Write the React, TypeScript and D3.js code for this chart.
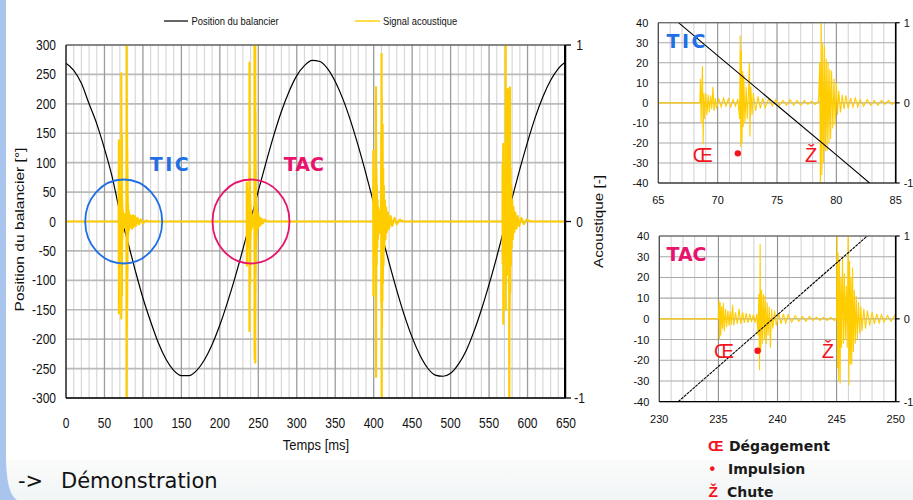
import * as React from 'react';
import * as d3 from 'd3';

type Pt = [number, number];

// ---------- main chart ticks
const timeTicks = [0, 50, 100, 150, 200, 250, 300, 350, 400, 450, 500, 550, 600, 650];
const positionTicks = [300, 250, 200, 150, 100, 50, 0, -50, -100, -150, -200, -250, -300];
const acousticTicks = [1, 0, -1];

// balance wheel position [°], read every 10 ms
const positionTime = [0, 10, 20, 30, 40, 50, 60, 70, 80, 90, 100, 110, 120, 130, 140, 150, 160, 170, 180, 190,
    200, 210, 220, 230, 240, 250, 260, 270, 280, 290, 300, 310, 320, 330, 340, 350, 360, 370, 380, 390,
    400, 410, 420, 430, 440, 450, 460, 470, 480, 490, 500, 510, 520, 530, 540, 550, 560, 570, 580, 590,
    600, 610, 620, 630, 640, 650];
const positionValues = [269, 257, 235, 200, 166, 124, 76, 16, -33, -83, -130, -170, -206, -234, -253, -262, -262, -253, -235, -209,
    -176, -137, -94, -47, 2, 52, 100, 146, 187, 221, 248, 265, 274, 272, 260, 238, 208, 171, 128, 81,
    31, -20, -70, -117, -160, -197, -227, -249, -261, -263, -258, -243, -220, -188, -150, -107, -60, -10, 40, 89,
    135, 177, 212, 240, 260, 272];

// acoustic signal bursts [ms, -]
const ticBurst: Pt[] = [
    [65, 0], [68.5, 0], [68.55, 0.3], [68.6, -0.25], [68.65, 0.1], [68.72, 0.46], [68.78, -0.52], [68.84, 0.12],
    [68.9, -0.2], [69.0, 0.12], [69.1, -0.15], [69.2, 0.1], [69.3, -0.12], [69.4, 0.09], [69.5, -0.08], [69.6, 0.2],
    [69.7, -0.1], [69.8, 0.06], [69.9, -0.07], [70.1, 0.05], [70.3, -0.05], [70.5, 0.06], [70.7, -0.04], [70.9, 0.05],
    [71.1, -0.05], [71.3, 0.04], [71.5, -0.04], [71.7, 0.05], [71.85, -0.2], [71.9, 0.84], [71.95, -0.55], [72.0, 0.65],
    [72.05, -0.5], [72.1, 0.4], [72.15, -0.3], [72.2, 0.35], [72.3, -0.25], [72.4, 0.2], [72.5, -0.2], [72.6, 0.15],
    [72.68, 0.5], [72.72, -0.42], [72.8, 0.2], [72.9, -0.15], [73.0, 0.12], [73.2, -0.1], [73.4, 0.08], [73.6, -0.07],
    [73.8, 0.06], [74.0, -0.06], [74.3, 0.05], [74.6, -0.04], [74.9, 0.04], [75.2, -0.03], [75.5, 0.03], [75.8, -0.03],
    [76.1, 0.04], [76.4, -0.03], [76.7, 0.03], [77.0, -0.03], [77.3, 0.03], [77.6, -0.02], [77.9, 0.02], [78.2, -0.02],
    [78.5, 0.02], [78.6, 0.5], [78.66, -1.2], [78.72, 1.2], [78.78, -0.9], [78.85, 0.75], [78.92, -0.75], [79.0, 0.7],
    [79.08, -0.6], [79.15, 0.55], [79.22, -0.6], [79.3, 0.5], [79.38, -0.5], [79.45, 0.42], [79.52, -0.45], [79.6, 0.4],
    [79.7, -0.32], [79.8, 0.3], [79.9, -0.28], [80.0, 0.25], [80.1, -0.15], [80.2, 0.15], [80.35, -0.12], [80.5, 0.1],
    [80.65, -0.08], [80.8, 0.09], [81.0, -0.07], [81.2, 0.06], [81.4, -0.05], [81.6, 0.06], [81.8, -0.05], [82.0, 0.04],
    [82.3, -0.04], [82.6, 0.04], [82.9, -0.03], [83.2, 0.03], [83.5, -0.03], [83.8, 0.03], [84.1, -0.02], [84.4, 0.03],
    [84.7, -0.02], [85.0, 0.02], [86, -0.04], [87, 0.035], [88, -0.03], [89.5, 0.03], [91, -0.025], [93, 0.02],
    [95, -0.015], [97, 0.012], [100, -0.01], [104, 0.005], [108, 0],
];

const tacBurst: Pt[] = [
    [230, 0], [235.0, 0], [235.05, 0.22], [235.1, -0.25], [235.15, 0.2], [235.2, -0.2], [235.27, 0.15], [235.35, -0.12],
    [235.42, 0.19], [235.5, -0.15], [235.6, 0.12], [235.7, -0.1], [235.8, 0.1], [235.9, -0.08], [236.0, 0.09], [236.1, -0.07],
    [236.2, 0.17], [236.3, -0.08], [236.45, 0.08], [236.6, -0.06], [236.75, 0.12], [236.9, -0.06], [237.05, 0.08], [237.2, -0.05],
    [237.35, 0.07], [237.5, -0.05], [237.65, 0.06], [237.8, -0.04], [237.95, 0.05], [238.1, -0.05], [238.25, 0.06], [238.35, -0.2],
    [238.42, 0.3], [238.48, -0.62], [238.53, 0.9], [238.58, -0.4], [238.65, 0.35], [238.72, -0.3], [238.8, 0.3], [238.88, -0.25],
    [238.95, 0.28], [239.05, -0.3], [239.12, 0.2], [239.2, -0.2], [239.3, 0.15], [239.4, -0.35], [239.5, 0.12], [239.6, -0.12],
    [239.75, 0.1], [239.9, -0.08], [240.1, 0.07], [240.3, -0.06], [240.5, 0.06], [240.7, -0.05], [240.9, 0.05], [241.2, -0.04],
    [241.5, 0.04], [241.8, -0.03], [242.1, 0.03], [242.4, -0.03], [242.7, 0.03], [243.0, -0.02], [243.3, 0.02], [243.6, -0.02],
    [243.9, 0.02], [244.2, -0.02], [244.5, 0.02], [244.8, -0.02], [245.0, 0.0], [245.03, 1.2], [245.08, -0.6], [245.12, 0.8],
    [245.18, -0.75], [245.24, 0.7], [245.3, -0.78], [245.36, 0.5], [245.42, -0.35], [245.5, 0.75], [245.58, -0.3], [245.66, 0.55],
    [245.74, -0.25], [245.82, 0.4], [245.9, -0.35], [245.98, 1.2], [246.04, -0.8], [246.1, 0.7], [246.16, -0.55], [246.22, 0.5],
    [246.28, -0.55], [246.35, 0.62], [246.42, -0.4], [246.5, 0.35], [246.58, -0.3], [246.66, 0.28], [246.75, -0.25], [246.85, 0.2],
    [246.95, -0.18], [247.05, 0.15], [247.15, -0.15], [247.3, 0.12], [247.45, -0.12], [247.6, 0.1], [247.8, -0.08], [248.0, 0.08],
    [248.2, -0.06], [248.4, 0.06], [248.6, -0.05], [248.8, 0.05], [249.0, -0.04], [249.3, 0.04], [249.6, -0.03], [249.9, 0.04],
    [250.2, -0.03], [250.6, 0.03], [251.2, -0.025], [252, 0.02], [253, -0.02], [254.5, 0.015], [256, -0.01], [258, 0.01], [262, 0],
];

const burst3: Pt[] = [
    [395, 0], [399.4, 0], [399.5, 0.4], [399.6, -0.42], [399.7, 0.25], [399.8, -0.2], [400, 0.15], [400.3, -0.12],
    [400.6, 0.1], [401, -0.08], [401.5, 0.08], [402, -0.06], [402.5, 0.06], [402.9, -0.3], [403.0, 0.76], [403.1, -0.88],
    [403.2, 0.45], [403.4, -0.35], [403.6, 0.3], [403.9, -0.25], [404.2, 0.2], [404.6, -0.15], [405, 0.12], [405.5, -0.1],
    [406, 0.08], [406.5, -0.07], [407, 0.06], [407.5, -0.06], [408, 0.05], [408.5, -0.05], [409, 0.05], [409.5, -0.04],
    [409.8, 0.5], [409.9, -0.46], [410.3, 0.95], [410.45, -1.2], [410.6, 0.7], [410.8, -0.6], [411, 0.5], [411.3, -0.45],
    [411.6, 0.55], [411.9, -0.35], [412.3, 0.3], [412.7, -0.25], [413.2, 0.2], [413.8, -0.15], [414.5, 0.12], [415.3, -0.1],
    [416.2, 0.08], [417.2, -0.06], [418.5, 0.05], [420, -0.04], [422, 0.03], [424, -0.025], [427, 0.02], [430, -0.015],
    [434, 0.01], [438, 0],
];

const burst4: Pt[] = [
    [565, 0], [567.5, 0], [567.6, 0.32], [567.7, -0.24], [567.9, 0.2], [568.1, -0.15], [568.4, 0.44], [568.5, -0.58],
    [568.7, 0.3], [569, -0.2], [569.3, 0.15], [569.7, -0.12], [570.1, 0.1], [570.6, -0.1], [571.0, 0.12], [571.4, -0.2],
    [571.6, 1.0], [571.7, -0.5], [571.9, 0.45], [572.2, -0.35], [572.6, 0.3], [573, -0.25], [573.5, 0.2], [574, -0.2],
    [574.4, 0.75], [574.7, -0.3], [575.1, 0.6], [575.5, -0.3], [576.0, 0.45], [576.3, -1.2], [576.5, 0.7], [576.8, -0.5],
    [577.2, 0.76], [577.5, -0.4], [577.9, 0.3], [578.3, -0.25], [578.8, 0.2], [579.4, -0.15], [580, 0.12], [580.8, -0.1],
    [581.7, 0.08], [582.7, -0.06], [584, 0.05], [585.5, -0.04], [587, 0.03], [589, -0.025], [592, 0.02], [595, -0.015],
    [599, 0.01], [604, 0],
];

const acousticSignal: Pt[] = [[0, 0], ...ticBurst, ...tacBurst, ...burst3, ...burst4, [650, 0]];

// ---------- zoom insets
const ticTimeTicks = [65, 70, 75, 80, 85];
const tacTimeTicks = [230, 235, 240, 245, 250];
const zoomPositionTicks = [40, 30, 20, 10, 0, -10, -20, -30, -40];
const ticZoomPosition: Pt[] = [[66.7, 40], [70, 23.6], [75, -1.2], [80, -26], [82.8, -40]];
const tacZoomPosition: Pt[] = [[231.6, -40], [235, -23], [240, 2], [245, 27], [247.6, 40]];

const ARIAL = 'Liberation Sans, Arial, sans-serif';
const VERDANA = 'DejaVu Sans, Verdana, sans-serif';
const YELLOW = '#ffcc00';
const RED = '#f5141e';
const BLUE = '#1f6fe5';
const PINK = '#e8146c';

const st = (x: number, y: number, sy: number = 1.15) => `translate(${x},${y}) scale(1,${sy})`;

function MainChart() {
    const x = d3.scaleLinear().domain([0, 650]).range([66, 566]);
    const y = d3.scaleLinear().domain([-300, 300]).range([398, 45]);
    const ya = d3.scaleLinear().domain([-1, 1]).range([398, 45]);
    const posLine = d3.line<number>().x((_, i) => x(positionTime[i])).y(d => y(d)).curve(d3.curveMonotoneX);
    const acLine = d3.line<Pt>().x(d => x(d[0])).y(d => ya(d[1]));
    const minor = d3.range(0, 651, 10).filter(t => t % 50 !== 0);

    return (
        <g>
            <defs>
                <clipPath id="mainClip">
                    <rect x={66} y={45} width={500} height={353}/>
                </clipPath>
            </defs>
            {/* legend */}
            <line x1={164} x2={188} y1={21} y2={21} stroke="#000" strokeWidth={1.2}/>
            <text transform={st(191.5, 24.5, 1.1)} fontFamily={ARIAL} fontSize={9.4} fill="#111">Position du balancier</text>
            <line x1={355} x2={380} y1={21} y2={21} stroke={YELLOW} strokeWidth={1.4}/>
            <text transform={st(383, 24.5, 1.1)} fontFamily={ARIAL} fontSize={9.4} fill="#111">Signal acoustique</text>

            {/* grid */}
            {minor.map(t => <line key={'m' + t} x1={x(t)} x2={x(t)} y1={45} y2={398} stroke="#d8d8d8" strokeWidth={1.2}/>)}
            {positionTicks.map(v => <line key={'h' + v} x1={66} x2={566} y1={y(v)} y2={y(v)} stroke="#bababa" strokeWidth={1.6}/>)}
            {timeTicks.map(t => <line key={'M' + t} x1={x(t)} x2={x(t)} y1={45} y2={398} stroke="#9c9c9c" strokeWidth={1.3}/>)}

            <g clipPath="url(#mainClip)">
                <path d={posLine(positionValues) || ''} fill="none" stroke="#000" strokeWidth={1.2}/>
                <path d={acLine(acousticSignal) || ''} fill="none" stroke={YELLOW} strokeWidth={2.2} strokeLinejoin="round"/>
            </g>

            {/* frame */}
            <line x1={66} x2={566} y1={45} y2={45} stroke="#444" strokeWidth={1.2}/>
            <line x1={66} x2={66} y1={45} y2={398} stroke="#222" strokeWidth={1.3}/>
            <line x1={66} x2={566} y1={398} y2={398} stroke="#000" strokeWidth={1.3}/>
            <line x1={565} x2={565} y1={45} y2={398} stroke="#000" strokeWidth={2}/>
            {acousticTicks.map(v => <line key={'at' + v} x1={566} x2={571} y1={ya(v)} y2={ya(v)} stroke="#000" strokeWidth={1.3}/>)}

            {/* annotations */}
            <ellipse cx={x(75)} cy={y(0)} rx={38.5} ry={42} fill="none" stroke={BLUE} strokeWidth={1.8}/>
            <ellipse cx={x(240.5)} cy={y(0)} rx={38.5} ry={42} fill="none" stroke={PINK} strokeWidth={1.8}/>
            <text x={x(109)} y={y(86)} fontFamily={VERDANA} fontWeight="bold" fontSize={19} letterSpacing={2.5} fill={BLUE}>TIC</text>
            <text x={x(283)} y={y(86)} fontFamily={VERDANA} fontWeight="bold" fontSize={19} fill={PINK}>TAC</text>

            {/* tick labels */}
            {positionTicks.map(v => (
                <text key={'yl' + v} transform={st(56, y(v) + 5)} textAnchor="end" fontFamily={ARIAL} fontSize={12} fill="#111">{v}</text>
            ))}
            {timeTicks.map(t => (
                <text key={'xl' + t} transform={st(x(t), 427.5)} textAnchor="middle" fontFamily={ARIAL} fontSize={12} fill="#111">{t}</text>
            ))}
            {acousticTicks.map(v => (
                <text key={'al' + v} transform={st(579.5, ya(v) + 5)} textAnchor="middle" fontFamily={ARIAL} fontSize={12} fill="#111">{v}</text>
            ))}
            <text transform={`translate(23.5,229.5) rotate(-90) scale(1.2,1)`} textAnchor="middle" fontFamily={ARIAL} fontSize={13} fill="#111">Position du balancier [°]</text>
            <text transform={`translate(603,221.5) rotate(-90) scale(1.17,1)`} textAnchor="middle" fontFamily={ARIAL} fontSize={13} fill="#111">Acoustique [-]</text>
            <text transform={st(316, 449.5, 1.12)} textAnchor="middle" fontFamily={ARIAL} fontSize={13} fill="#111">Temps [ms]</text>
        </g>
    );
}

interface InsetProps {
    id: string;
    xDomain: [number, number];
    left: number;
    right: number;
    top: number;
    bottom: number;
    xTicks: number[];
    burst: Pt[];
    position: Pt[];
    dashed: boolean;
    title: string;
    titleColor: string;
    titleSpacing: number;
    titleAt: Pt;
    degAt: Pt;
    impAt: Pt;
    chuteAt: Pt;
}

function Inset(p: InsetProps) {
    const x = d3.scaleLinear().domain(p.xDomain).range([p.left, p.right]);
    const y = d3.scaleLinear().domain([-40, 40]).range([p.bottom, p.top]);
    const ya = d3.scaleLinear().domain([-1, 1]).range([p.bottom, p.top]);
    const acLine = d3.line<Pt>().x(d => x(d[0])).y(d => ya(d[1]));
    const posLine = d3.line<Pt>().x(d => x(d[0])).y(d => y(d[1]));
    const ms = d3.range(p.xDomain[0], p.xDomain[1] + 1, 1);

    return (
        <g>
            <defs>
                <clipPath id={p.id}>
                    <rect x={p.left} y={p.top} width={p.right - p.left} height={p.bottom - p.top}/>
                </clipPath>
            </defs>
            {ms.filter(t => t % 5 !== 0).map(t => <line key={'m' + t} x1={x(t)} x2={x(t)} y1={p.top} y2={p.bottom} stroke="#d0d0d0" strokeWidth={1}/>)}
            {zoomPositionTicks.map(v => <line key={'h' + v} x1={p.left} x2={p.right} y1={y(v)} y2={y(v)} stroke="#a9a9a9" strokeWidth={1.1}/>)}
            {p.xTicks.map(t => <line key={'M' + t} x1={x(t)} x2={x(t)} y1={p.top} y2={p.bottom} stroke="#8e8e8e" strokeWidth={1.1}/>)}

            <g clipPath={`url(#${p.id})`}>
                <path d={acLine(p.burst) || ''} fill="none" stroke={YELLOW} strokeWidth={1.1}/>
                <path d={posLine(p.position) || ''} fill="none" stroke="#000" strokeWidth={1.1}
                      strokeDasharray={p.dashed ? '3 0.8' : undefined}/>
            </g>

            <line x1={p.left} x2={p.right} y1={p.top} y2={p.top} stroke="#555" strokeWidth={1.1}/>
            <line x1={p.left} x2={p.left} y1={p.top} y2={p.bottom} stroke="#444" strokeWidth={1.1}/>
            <line x1={p.left} x2={p.right} y1={p.bottom} y2={p.bottom} stroke="#000" strokeWidth={1.2}/>
            <line x1={p.right} x2={p.right} y1={p.top} y2={p.bottom} stroke="#000" strokeWidth={1.6}/>
            {acousticTicks.map(v => <line key={'at' + v} x1={p.right} x2={p.right + 4} y1={ya(v)} y2={ya(v)} stroke="#000" strokeWidth={1.2}/>)}

            <text x={x(p.titleAt[0])} y={y(p.titleAt[1])} fontFamily={VERDANA} fontWeight="bold" fontSize={19}
                  letterSpacing={p.titleSpacing} fill={p.titleColor}>{p.title}</text>
            <text x={x(p.degAt[0])} y={y(p.degAt[1])} fontFamily={ARIAL} fontSize={20} fill={RED}>Œ</text>
            <circle cx={x(p.impAt[0])} cy={y(p.impAt[1])} r={3.2} fill={RED}/>
            <text x={x(p.chuteAt[0])} y={y(p.chuteAt[1])} fontFamily={ARIAL} fontSize={20} fill={RED}>Ž</text>

            {zoomPositionTicks.map(v => (
                <text key={'yl' + v} x={p.left - 10} y={y(v) + 4} textAnchor="end" fontFamily={ARIAL} fontSize={11} fill="#111">{v}</text>
            ))}
            {acousticTicks.map(v => (
                <text key={'al' + v} x={p.right + 8} y={ya(v) + 4} fontFamily={ARIAL} fontSize={11} fill="#111">{v}</text>
            ))}
            {p.xTicks.map(t => (
                <text key={'xl' + t} x={x(t)} y={p.bottom + 21} textAnchor="middle" fontFamily={ARIAL} fontSize={11} fill="#111">{t}</text>
            ))}
        </g>
    );
}

export default function App() {
    return (
        <div style={{position: 'absolute', left: 0, top: 0}}>
            <svg width={913} height={500} viewBox="0 0 913 500" xmlns="http://www.w3.org/2000/svg" style={{display: 'block'}}>
                <defs>
                    <linearGradient id="bottomBand" x1="0" y1="0" x2="0" y2="1">
                        <stop offset="0" stopColor="#fbfcfa"/>
                        <stop offset="1" stopColor="#f1f5f6"/>
                    </linearGradient>
                </defs>
                <rect x={0} y={0} width={913} height={500} fill="#fff"/>
                <rect x={0} y={460} width={913} height={40} fill="url(#bottomBand)"/>
                <path d="M0,0 H6 V455 Q6,494 17,500 H0 Z" fill="#a9c5ee"/>

                <MainChart/>

                <Inset id="ticClip" xDomain={[65, 85]} left={658.3} right={895.7} top={22.7} bottom={183}
                       xTicks={ticTimeTicks} burst={ticBurst} position={ticZoomPosition} dashed={false}
                       title="TIC" titleColor={BLUE} titleSpacing={2.5} titleAt={[65.7, 27.3]}
                       degAt={[67.9, -29.4]} impAt={[71.7, -25.2]} chuteAt={[77.36, -29.4]}/>
                <Inset id="tacClip" xDomain={[230, 250]} left={659.3} right={895.7} top={236} bottom={401.7}
                       xTicks={tacTimeTicks} burst={tacBurst} position={tacZoomPosition} dashed={true}
                       title="TAC" titleColor={PINK} titleSpacing={0} titleAt={[230.6, 27.9]}
                       degAt={[234.63, -18.9]} impAt={[238.32, -15.4]} chuteAt={[243.74, -18.9]}/>

                {/* symbol legend */}
                <text x={708} y={451} fontFamily={ARIAL} fontWeight="bold" fontSize={15.5} fill={RED}>Œ</text>
                <text x={729} y={451} fontFamily={VERDANA} fontWeight="bold" fontSize={14} fill="#1a1a1a">Dégagement</text>
                <text x={709.5} y={474} fontFamily={ARIAL} fontWeight="bold" fontSize={16} fill={RED}>•</text>
                <text x={728} y={474} fontFamily={VERDANA} fontWeight="bold" fontSize={14} fill="#1a1a1a">Impulsion</text>
                <text x={708.5} y={497} fontFamily={ARIAL} fontWeight="bold" fontSize={15.5} fill={RED}>Ž</text>
                <text x={727} y={497} fontFamily={VERDANA} fontWeight="bold" fontSize={14} fill="#1a1a1a">Chute</text>

                <text x={18} y={488} fontFamily={VERDANA} fontSize={21} fill="#111">-&gt;</text>
                <text x={61} y={488} fontFamily={VERDANA} fontSize={21} fill="#111">Démonstration</text>
            </svg>
        </div>
    );
}
